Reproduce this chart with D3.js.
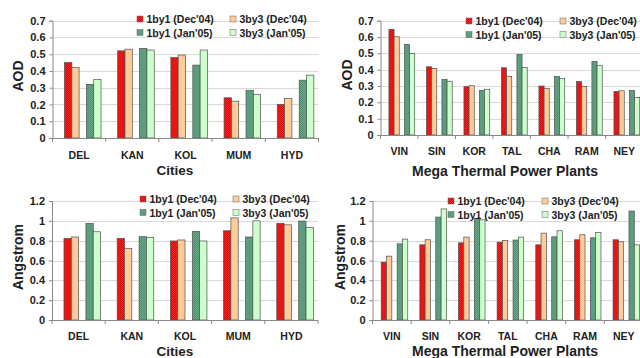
<!DOCTYPE html>
<html>
<head>
<meta charset="utf-8">
<script src="https://cdn.jsdelivr.net/npm/d3@7"></script>
<style>
  body { margin: 0; background: #fff; }
  svg { display: block; font-family: "Liberation Sans", Arial, sans-serif; font-weight: bold; }
</style>
</head>
<body>
<svg id="chart" width="640" height="358"></svg>
<script>
// categories
const cities = ["DEL", "KAN", "KOL", "MUM", "HYD"];
const plants = ["VIN", "SIN", "KOR", "TAL", "CHA", "RAM", "NEY"];

// series names
const seriesNames = ["1by1 (Dec'04)", "3by3 (Dec'04)", "1by1 (Jan'05)", "3by3 (Jan'05)"];

// AOD over cities, one array per series
const aodCity1Dec = [0.45, 0.52, 0.48, 0.24, 0.20];
const aodCity3Dec = [0.42, 0.53, 0.495, 0.22, 0.235];
const aodCity1Jan = [0.32, 0.535, 0.435, 0.285, 0.345];
const aodCity3Jan = [0.35, 0.525, 0.525, 0.26, 0.375];

// AOD over power plants
const aodPlant1Dec = [0.647, 0.418, 0.296, 0.412, 0.30, 0.327, 0.267];
const aodPlant3Dec = [0.602, 0.408, 0.302, 0.359, 0.286, 0.298, 0.271];
const aodPlant1Jan = [0.555, 0.341, 0.273, 0.494, 0.359, 0.451, 0.273];
const aodPlant3Jan = [0.50, 0.329, 0.28, 0.414, 0.347, 0.427, 0.23];

// Angstrom over cities
const angCity1Dec = [0.823, 0.823, 0.797, 0.90, 0.975];
const angCity3Dec = [0.837, 0.723, 0.807, 1.03, 0.96];
const angCity1Jan = [0.975, 0.84, 0.894, 0.837, 0.998];
const angCity3Jan = [0.89, 0.834, 0.797, 1.0, 0.934];

// Angstrom over power plants
const angPlant1Dec = [0.583, 0.758, 0.778, 0.785, 0.758, 0.809, 0.809];
const angPlant3Dec = [0.644, 0.809, 0.836, 0.802, 0.876, 0.86, 0.789];
const angPlant1Jan = [0.768, 1.038, 1.025, 0.806, 0.839, 0.829, 1.099];
const angPlant3Jan = [0.816, 1.12, 1.01, 0.836, 0.90, 0.883, 0.758];

// y tick labels
const aodTicks = [0, 0.1, 0.2, 0.3, 0.4, 0.5, 0.6, 0.7];
const angTicks = [0, 0.2, 0.4, 0.6, 0.8, 1, 1.2];

const svg = d3.select("#chart");
const defs = svg.append("defs");

// checker textures for the 1by1 series
function checker(id, base, dot) {
  const p = defs.append("pattern")
    .attr("id", id)
    .attr("patternUnits", "userSpaceOnUse")
    .attr("width", 2).attr("height", 2);
  p.append("rect").attr("width", 2).attr("height", 2).attr("fill", base);
  p.append("rect").attr("width", 1).attr("height", 1).attr("fill", dot);
  p.append("rect").attr("x", 1).attr("y", 1).attr("width", 1).attr("height", 1).attr("fill", dot);
}
checker("redDots", "#ff2a2a", "#d40000");
checker("greenDots", "#6cb290", "#4a8a6a");

const fills = ["url(#redDots)", "#ffcc99", "url(#greenDots)", "#ccffcc"];
// slot of each series inside a group (slots 0 and 3 stay empty)
const slots = [1, 2, 4, 5];

function drawPanel(cfg) {
  const g = svg.append("g");

  const x = d3.scaleBand()
    .domain(cfg.cats)
    .range([cfg.x0, cfg.x1])
    .paddingInner(0.175)
    .paddingOuter(0.0875);

  const xs = d3.scaleBand()
    .domain(d3.range(6))
    .range([0, x.bandwidth()]);

  const y = d3.scaleLinear()
    .domain([0, d3.max(cfg.ticks)])
    .range([cfg.y0, cfg.y1]);

  // gridlines
  g.append("g")
    .selectAll("line")
    .data(cfg.ticks.slice(1))
    .join("line")
    .attr("x1", cfg.x0).attr("x2", cfg.x1)
    .attr("y1", d => Math.round(y(d)) + 0.5)
    .attr("y2", d => Math.round(y(d)) + 0.5)
    .attr("stroke", "#d9d9d9");

  // bars
  const rows = cfg.cats.map((c, i) => ({ cat: c, vals: cfg.series.map(s => s[i]) }));
  g.append("g")
    .selectAll("g")
    .data(rows)
    .join("g")
    .attr("transform", d => `translate(${x(d.cat)},0)`)
    .selectAll("rect")
    .data(d => d.vals.map((v, k) => ({ v, k })))
    .join("rect")
    .attr("x", d => xs(slots[d.k]))
    .attr("y", d => y(d.v))
    .attr("width", xs.bandwidth())
    .attr("height", d => cfg.y0 - y(d.v))
    .attr("fill", d => fills[d.k])
    .attr("stroke", "#505050")
    .attr("stroke-width", 0.7);

  // y axis
  const ya = g.append("g")
    .attr("transform", `translate(${cfg.x0},0)`)
    .call(d3.axisLeft(y).tickValues(cfg.ticks).tickSize(3).tickPadding(4)
      .tickFormat(d => d3.format("~g")(d)));
  ya.select(".domain").attr("stroke", "#888");
  ya.selectAll(".tick line").attr("stroke", "#888");
  ya.selectAll("text").attr("font-size", 11).attr("fill", "#222")
    .attr("font-family", "Liberation Sans, Arial, sans-serif");

  // x axis: ticks on category boundaries
  const xa = g.append("g");
  xa.append("line")
    .attr("x1", cfg.x0).attr("x2", cfg.x1)
    .attr("y1", cfg.y0 + 0.5).attr("y2", cfg.y0 + 0.5)
    .attr("stroke", "#888");
  const step = x.step();
  xa.selectAll("line.tk")
    .data(d3.range(cfg.cats.length + 1))
    .join("line")
    .attr("class", "tk")
    .attr("x1", i => cfg.x0 + i * step).attr("x2", i => cfg.x0 + i * step)
    .attr("y1", cfg.y0).attr("y2", cfg.y0 + 4)
    .attr("stroke", "#888");
  xa.selectAll("text")
    .data(cfg.cats)
    .join("text")
    .attr("x", d => x(d) + x.bandwidth() / 2)
    .attr("y", cfg.catY)
    .attr("text-anchor", "middle")
    .attr("font-size", 10.5)
    .attr("fill", "#222")
    .text(d => d);

  // axis titles
  g.append("text")
    .attr("x", cfg.titleX)
    .attr("y", cfg.titleY)
    .attr("text-anchor", "middle")
    .attr("font-size", cfg.titleSize)
    .attr("fill", "#222")
    .text(cfg.xTitle);

  g.append("text")
    .attr("transform", `translate(${cfg.yTitleX},${cfg.yTitleY}) rotate(-90)`)
    .attr("text-anchor", "middle")
    .attr("font-size", 14)
    .attr("fill", "#222")
    .text(cfg.yTitle);

  // legend, two columns by two rows
  const lg = g.append("g").attr("transform", `translate(${cfg.legX},${cfg.legY})`);
  const items = lg.selectAll("g")
    .data(seriesNames.map((n, k) => ({ n, k })))
    .join("g")
    .attr("transform", d => `translate(${(d.k % 2) * cfg.legColW},${Math.floor(d.k / 2) * 13.5})`);
  items.append("rect")
    .attr("x", 0).attr("y", -3)
    .attr("width", 6).attr("height", 6)
    .attr("fill", d => fills[d.k])
    .attr("stroke", "#666")
    .attr("stroke-width", 0.5);
  items.append("text")
    .attr("x", 9.5)
    .attr("y", 4)
    .attr("font-size", 10.5)
    .attr("fill", "#222")
    .text(d => d.n);
}

drawPanel({
  cats: cities,
  series: [aodCity1Dec, aodCity3Dec, aodCity1Jan, aodCity3Jan],
  ticks: aodTicks,
  x0: 52.5, x1: 318.5, y0: 138, y1: 20.7,
  catY: 159, xTitle: "Cities", titleX: 175, titleY: 175, titleSize: 13.5,
  yTitle: "AOD", yTitleX: 23, yTitleY: 76,
  legX: 137, legY: 19, legColW: 93
});

drawPanel({
  cats: plants,
  series: [aodPlant1Dec, aodPlant3Dec, aodPlant1Jan, aodPlant3Jan],
  ticks: aodTicks,
  x0: 380.5, x1: 643, y0: 135, y1: 20.7,
  catY: 155, xTitle: "Mega Thermal Power Plants", titleX: 505, titleY: 176, titleSize: 14,
  yTitle: "AOD", yTitleX: 352, yTitleY: 75,
  legX: 466, legY: 21, legColW: 94
});

drawPanel({
  cats: cities,
  series: [angCity1Dec, angCity3Dec, angCity1Jan, angCity3Jan],
  ticks: angTicks,
  x0: 52, x1: 318, y0: 320, y1: 201,
  catY: 340, xTitle: "Cities", titleX: 175, titleY: 356, titleSize: 13.5,
  yTitle: "Angstrom", yTitleX: 23, yTitleY: 257,
  legX: 140, legY: 199, legColW: 93
});

drawPanel({
  cats: plants,
  series: [angPlant1Dec, angPlant3Dec, angPlant1Jan, angPlant3Jan],
  ticks: angTicks,
  x0: 372.5, x1: 643, y0: 320, y1: 201,
  catY: 340, xTitle: "Mega Thermal Power Plants", titleX: 505, titleY: 356, titleSize: 14,
  yTitle: "Angstrom", yTitleX: 345, yTitleY: 257,
  legX: 448, legY: 201, legColW: 94
});
</script>
</body>
</html>
